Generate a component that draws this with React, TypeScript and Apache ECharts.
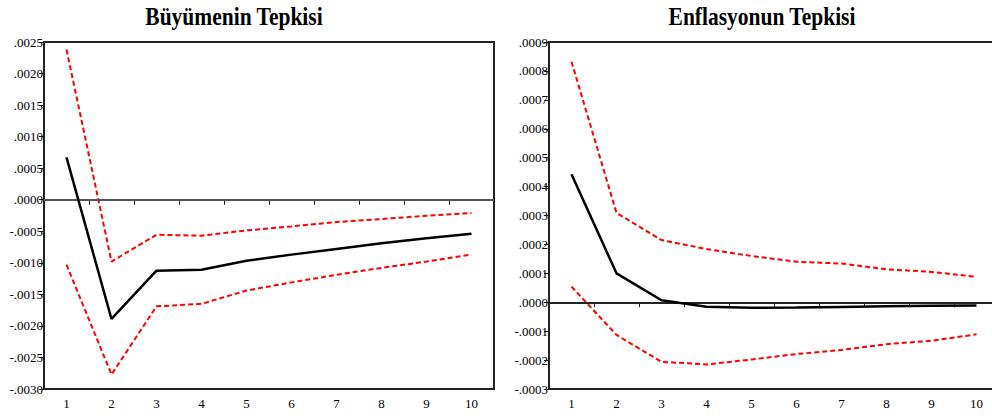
import React, { useEffect, useRef } from "react";
import * as echarts from "echarts";

const periods = ["1", "2", "3", "4", "5", "6", "7", "8", "9", "10"];

const growthResp = [0.00067, -0.00189, -0.001125, -0.00111, -0.000967, -0.00087, -0.00078, -0.00069, -0.00061, -0.00054];
const growthUpper = [0.00238, -0.00098, -0.000555, -0.00057, -0.000486, -0.000423, -0.000354, -0.000306, -0.000254, -0.000211];
const growthLower = [-0.00103, -0.00277, -0.00169, -0.00165, -0.00144, -0.00131, -0.00119, -0.00108, -0.00098, -0.00087];

const inflResp = [0.000443, 0.0001, 0.000007, -0.0000155, -0.000019, -0.000018, -0.000016, -0.000014, -0.000012, -0.0000115];
const inflUpper = [0.000832, 0.000309, 0.000215, 0.000184, 0.00016, 0.00014, 0.000134, 0.000114, 0.000105, 0.000088];
const inflLower = [0.000054, -0.000113, -0.000206, -0.000215, -0.000198, -0.000179, -0.000165, -0.000145, -0.000133, -0.000111];

const titles = ["Büyümenin Tepkisi", "Enflasyonun Tepkisi"];

const FONT = "Liberation Serif";

function fmt(v: number): string {
  if (Math.abs(v) < 1e-10) return ".0000";
  const s = Math.abs(v).toFixed(4).replace(/^0/, "");
  return (v < 0 ? "-" : "") + s;
}

export default function App() {
  const ref = useRef<HTMLDivElement>(null);
  useEffect(() => {
    if (!ref.current) return;
    const chart = echarts.init(ref.current, null, { renderer: "svg" });
    const grids = [
      { left: 44, top: 42, width: 450, height: 347 },
      { left: 549, top: 42, width: 450, height: 347 },
    ];
    const yRanges = [
      { min: -0.003, max: 0.0025, interval: 0.0005 },
      { min: -0.0003, max: 0.0009, interval: 0.0001 },
    ];
    const sets = [
      [growthResp, growthUpper, growthLower],
      [inflResp, inflUpper, inflLower],
    ];
    const zeroLine = [
      { color: "#555", width: 2 },
      { color: "#222", width: 1 },
    ];
    const series: any[] = [];
    sets.forEach((s, i) => {
      series.push({
        type: "line",
        xAxisIndex: i,
        yAxisIndex: i,
        data: s[0],
        symbol: "none",
        lineStyle: { color: "#000", width: 2.5, type: "solid" },
        z: 5,
        markLine: {
          silent: true,
          symbol: "none",
          label: { show: false },
          lineStyle: { ...zeroLine[i], type: "solid" },
          data: [{ yAxis: 0 }],
        },
      });
      for (let k = 1; k <= 2; k++) {
        series.push({
          type: "line",
          xAxisIndex: i,
          yAxisIndex: i,
          data: s[k],
          symbol: "none",
          lineStyle: { color: "#ff0000", width: 2, type: [5, 3] },
          z: 4,
        });
      }
    });
    const titlePos = [234, 762];
    chart.setOption({
      animation: false,
      backgroundColor: "#fff",
      grid: grids.map((g) => ({ ...g, show: true, borderColor: "#222", borderWidth: 2, backgroundColor: "transparent" })),
      graphic: titles.map((t, i) => ({
        type: "text",
        x: titlePos[i],
        y: 16,
        scaleX: 0.86,
        style: {
          text: t,
          fontFamily: FONT,
          fontSize: 25,
          fontWeight: "bold",
          fill: "#000",
          textAlign: "center",
          textVerticalAlign: "middle",
        },
      })),
      xAxis: [0, 1].map((i) => ({
        type: "category",
        gridIndex: i,
        data: periods,
        boundaryGap: true,
        axisLine: { show: true, lineStyle: { color: "#222", width: 2 } },
        axisTick: { show: true, inside: false, length: 5, alignWithLabel: false, lineStyle: { color: "#222", width: 1 } },
        axisLabel: { color: "#000", fontFamily: FONT, fontSize: 13, margin: 8 },
        splitLine: { show: false },
      })),
      yAxis: [0, 1].map((i) => ({
        type: "value",
        gridIndex: i,
        min: yRanges[i].min,
        max: yRanges[i].max,
        interval: yRanges[i].interval,
        axisLine: { show: true, lineStyle: { color: "#222", width: 2 } },
        axisTick: { show: true, inside: false, length: 5, lineStyle: { color: "#222", width: 1 } },
        axisLabel: { color: "#000", fontFamily: FONT, fontSize: 13, margin: 1, formatter: fmt },
        splitLine: { show: false },
      })),
      series,
    });
    return () => chart.dispose();
  }, []);
  return (
    <div
      ref={ref}
      style={{ position: "fixed", left: 0, top: 0, width: 1002, height: 416, background: "#fff" }}
    />
  );
}
